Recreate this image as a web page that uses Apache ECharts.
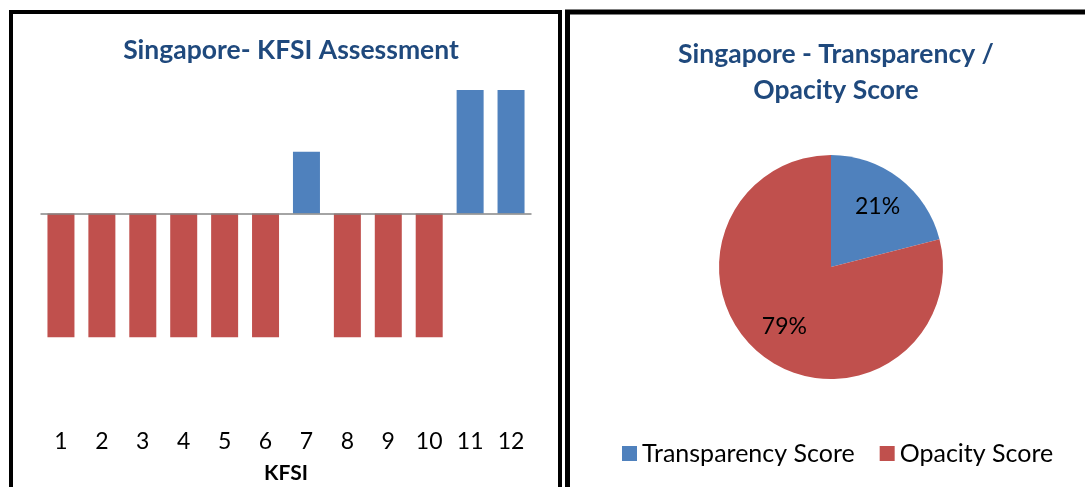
<!DOCTYPE html>
<html>
<head>
<meta charset="utf-8">
<script src="https://cdn.jsdelivr.net/npm/echarts@6/dist/echarts.min.js"></script>
<style>
  html, body { margin: 0; padding: 0; background: #fff; }
  #main { width: 1085px; height: 487px; }
</style>
</head>
<body>
<div id="main"></div>
<script>
var kfsiLabels = ['1', '2', '3', '4', '5', '6', '7', '8', '9', '10', '11', '12'];
var kfsiValues = [-2, -2, -2, -2, -2, -2, 1, -2, -2, -2, 2, 2];
var pieNames = ['Transparency Score', 'Opacity Score'];
var pieValues = [21, 79];

var blue = '#4F81BD';
var red = '#C0504D';
var titleColor = '#1F497D';
var font = 'Lato';

(function () {
    var myChart = echarts.init(document.getElementById('main'));
    var barData = kfsiValues.map(function (v) {
        return { value: v, itemStyle: { color: v >= 0 ? blue : red } };
    });
    var pieData = pieNames.map(function (n, i) {
        return { name: n, value: pieValues[i] };
    });
    var option = {
        animation: false,
        textStyle: { fontFamily: font },
        color: [blue, red],
        graphic: [
            // panel borders
            { type: 'rect', shape: { x: 11, y: 12, width: 549, height: 520 },
              style: { fill: 'none', stroke: '#000', lineWidth: 4 } },
            { type: 'rect', shape: { x: 567.5, y: 12, width: 600, height: 520 },
              style: { fill: 'none', stroke: '#000', lineWidth: 5 } }
        ],
        title: [
            {
                text: 'Singapore- KFSI Assessment',
                left: 286, top: 32, textAlign: 'center',
                textStyle: { fontSize: 26.5, fontWeight: 'bold', color: titleColor, fontFamily: font }
            },
            {
                text: 'Singapore - Transparency /\nOpacity Score',
                left: 831, top: 31, textAlign: 'center',
                textStyle: { fontSize: 26.5, fontWeight: 'bold', color: titleColor, fontFamily: font, lineHeight: 36 }
            }
        ],
        legend: {
            data: [
                { name: pieNames[0], itemStyle: { color: blue } },
                { name: pieNames[1], itemStyle: { color: red } }
            ],
            left: 617, top: 436,
            icon: 'rect', itemWidth: 15, itemHeight: 15, itemGap: 25, itemTextGap: 7,
            textStyle: { fontSize: 25, color: '#000', fontFamily: font }
        },
        grid: { left: 40.5, right: 553.5, top: 90, bottom: 88, outerBoundsMode: 'none' },
        xAxis: {
            type: 'category',
            data: kfsiLabels,
            axisLine: { show: false },
            axisTick: { show: false },
            axisLabel: { fontSize: 23, color: '#000', margin: 31 },
            name: 'KFSI',
            nameLocation: 'middle',
            nameGap: 64,
            nameTextStyle: { fontSize: 21, fontWeight: 'bold', color: '#000' }
        },
        yAxis: {
            type: 'value', min: -3, max: 2,
            show: false
        },
        series: [
            {
                type: 'bar',
                data: barData,
                barWidth: 27,
                markLine: {
                    silent: true, symbol: 'none', label: { show: false },
                    lineStyle: { color: '#868686', width: 1.5, type: 'solid' },
                    data: [{ yAxis: 0 }]
                }
            },
            {
                type: 'pie',
                center: [831, 267],
                radius: [0, 112],
                startAngle: 90,
                clockwise: true,
                label: { show: false },
                labelLine: { show: false },
                data: pieData
            },
            {
                // transparent overlay to put the percent labels further out
                type: 'pie',
                center: [831, 267],
                radius: [0, 146],
                startAngle: 90,
                clockwise: true,
                silent: true,
                itemStyle: { color: 'rgba(0,0,0,0)' },
                label: {
                    show: true, position: 'inside',
                    formatter: '{d}%', fontSize: 23, color: '#000', fontFamily: font
                },
                labelLine: { show: false },
                data: pieData
            }
        ]
    };
    myChart.setOption(option);
})();
</script>
</body>
</html>
